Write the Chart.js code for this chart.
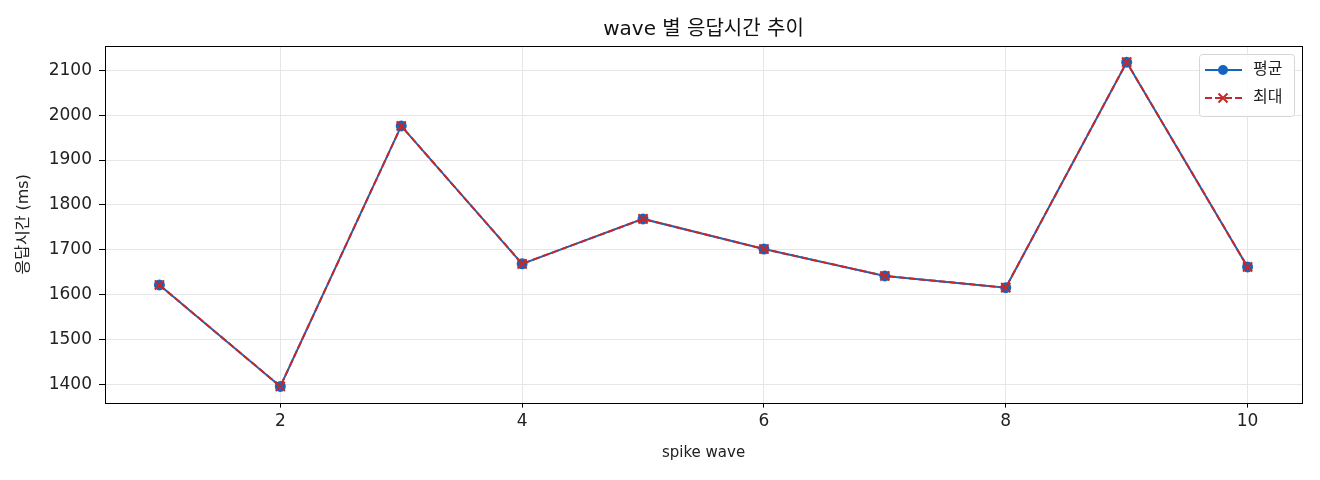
<!DOCTYPE html>
<html>
<head>
<meta charset="utf-8">
<script src="https://cdn.jsdelivr.net/npm/chart.js@4"></script>
<style>
  html, body { margin: 0; padding: 0; background: #fff; }
  #wrap { width: 1320px; height: 480px; }
</style>
</head>
<body>
<div id="wrap"><canvas id="waveChart" width="1320" height="480"></canvas></div>
<script>
const FONT = "'DejaVu Sans', 'Noto Sans CJK KR', sans-serif";

// data
const waves = [1, 2, 3, 4, 5, 6, 7, 8, 9, 10];
const avgMs = [1622, 1396, 1976, 1669, 1769, 1702, 1642, 1616, 2118, 1662];
const maxMs = [1622, 1396, 1976, 1669, 1769, 1702, 1642, 1616, 2118, 1662];
const xTicks = [2, 4, 6, 8, 10];
const yTicks = [1400, 1500, 1600, 1700, 1800, 1900, 2000, 2100];
const chartTitle = 'wave 별 응답시간 추이';

const BLUE = '#1565c0';
const RED = '#c62828';

// frame round the plot area + title centred over it (matplotlib style)
const frame = {
  id: 'frame',
  afterDatasetsDraw(chart) {
    const { ctx, chartArea: a } = chart;
    ctx.save();
    ctx.strokeStyle = '#000';
    ctx.lineWidth = 1;
    ctx.strokeRect(Math.round(a.left) + 0.5, Math.round(a.top) + 0.5,
      Math.round(a.right - a.left), Math.round(a.bottom - a.top));
    ctx.fillStyle = '#111';
    ctx.font = '20px ' + FONT;
    ctx.textAlign = 'center';
    ctx.textBaseline = 'middle';
    ctx.fillText(chartTitle, (a.left + a.right) / 2, a.top - 16);
    ctx.restore();
  }
};

// legend box, top right
const legendBox = {
  id: 'legendBox',
  afterDraw(chart) {
    const { ctx, chartArea: a } = chart;
    const w = 95, h = 62;
    const x = a.right - 8 - w, y = a.top + 8;
    ctx.save();
    ctx.fillStyle = 'rgba(255,255,255,0.85)';
    ctx.strokeStyle = '#d6d6d6';
    ctx.lineWidth = 1;
    ctx.beginPath();
    ctx.roundRect(x + 0.5, y + 0.5, w, h, 3);
    ctx.fill();
    ctx.stroke();

    chart.data.datasets.forEach((ds, i) => {
      const cy = y + 16 + i * 28;
      ctx.strokeStyle = ds.borderColor;
      ctx.lineWidth = 2;
      ctx.setLineDash(ds.borderDash || []);
      ctx.beginPath();
      ctx.moveTo(x + 6, cy);
      ctx.lineTo(x + 43, cy);
      ctx.stroke();
      ctx.setLineDash([]);
      const mx = x + 24;
      if (ds.pointStyle === 'circle') {
        ctx.fillStyle = ds.pointBackgroundColor;
        ctx.beginPath();
        ctx.arc(mx, cy, 5, 0, Math.PI * 2);
        ctx.fill();
      } else {
        ctx.strokeStyle = ds.pointBorderColor;
        ctx.lineWidth = 2;
        ctx.beginPath();
        ctx.moveTo(mx - 4.5, cy - 4.5); ctx.lineTo(mx + 4.5, cy + 4.5);
        ctx.moveTo(mx + 4.5, cy - 4.5); ctx.lineTo(mx - 4.5, cy + 4.5);
        ctx.stroke();
      }
      ctx.fillStyle = '#222';
      ctx.font = '16px ' + FONT;
      ctx.textBaseline = 'middle';
      ctx.fillText(ds.label, x + 54, cy);
    });
    ctx.restore();
  }
};

new Chart(document.getElementById('waveChart'), {
  type: 'line',
  data: {
    datasets: [
      {
        label: '평균',
        data: waves.map((w, i) => ({ x: w, y: avgMs[i] })),
        borderColor: BLUE,
        borderWidth: 2,
        pointStyle: 'circle',
        pointRadius: 5.5,
        pointBackgroundColor: BLUE,
        pointBorderColor: BLUE,
        pointBorderWidth: 0,
        tension: 0,
        order: 1
      },
      {
        label: '최대',
        data: waves.map((w, i) => ({ x: w, y: maxMs[i] })),
        borderColor: RED,
        borderWidth: 2,
        borderDash: [7, 3],
        pointStyle: 'crossRot',
        pointRadius: 6.5,
        pointBackgroundColor: RED,
        pointBorderColor: RED,
        pointBorderWidth: 2,
        tension: 0,
        order: 0
      }
    ]
  },
  options: {
    responsive: false,
    animation: false,
    devicePixelRatio: 1,
    layout: { padding: { left: 0, right: 18, top: 46, bottom: 18 } },
    plugins: {
      legend: { display: false },
      tooltip: { enabled: false },
      title: { display: false }
    },
    scales: {
      x: {
        type: 'linear',
        min: 0.55,
        max: 10.45,
        afterBuildTicks: s => { s.ticks = xTicks.map(v => ({ value: v })); },
        ticks: {
          color: '#222',
          font: { family: FONT, size: 17 },
          padding: 4,
          maxRotation: 0,
          callback: v => String(v)
        },
        grid: { color: '#e6e6e6', lineWidth: 1, tickColor: '#000', tickLength: 5, drawTicks: true },
        border: { display: false },
        title: {
          display: true,
          text: 'spike wave',
          color: '#222',
          font: { family: FONT, size: 15 },
          padding: { top: 8, bottom: 0 }
        }
      },
      y: {
        min: 1360,
        max: 2154,
        afterBuildTicks: s => { s.ticks = yTicks.map(v => ({ value: v })); },
        afterFit: s => { s.width = 105; },
        ticks: {
          color: '#222',
          font: { family: FONT, size: 17 },
          padding: 7,
          callback: v => String(v)
        },
        grid: { color: '#e6e6e6', lineWidth: 1, tickColor: '#000', tickLength: 6, drawTicks: true },
        border: { display: false },
        title: {
          display: true,
          text: '응답시간 (ms)',
          color: '#222',
          font: { family: FONT, size: 16 },
          padding: { top: 14, bottom: 0 }
        }
      }
    }
  },
  plugins: [frame, legendBox]
});
</script>
</body>
</html>
